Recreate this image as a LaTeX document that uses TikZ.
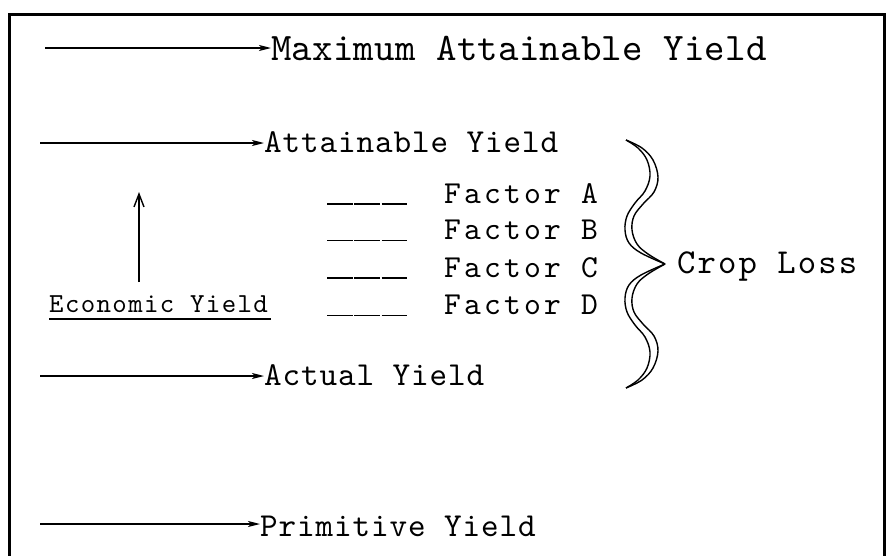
\documentclass[tikz,border=0pt]{standalone}
\usepackage{fontspec}
\usetikzlibrary{arrows.meta}
\newfontfamily\plotfont{lmmono10-regular.otf}
\tikzset{
  txt/.style={inner sep=0pt, anchor=base west, text=black},
  bigtxt/.style={font=\plotfont\fontsize{39}{42}\selectfont\addfontfeature{LetterSpace=0.5}},
  midtxt/.style={font=\plotfont\fontsize{33.5}{36}\selectfont\addfontfeature{LetterSpace=2.7}},
  factxt/.style={font=\plotfont\fontsize{32}{34}\selectfont\addfontfeature{LetterSpace=10}},
  croptxt/.style={font=\plotfont\fontsize{35}{38}\selectfont\addfontfeature{LetterSpace=6}},
  ecotxt/.style={font=\plotfont\fontsize{27.5}{30}\selectfont\addfontfeature{LetterSpace=5}},
  harrow/.style={line width=1.3pt, -{Stealth[length=12pt,width=6pt,inset=3pt]}},
  varrow/.style={line width=1.4pt, -{Straight Barb[length=13pt,width=10pt]}},
  blankline/.style={line width=1.2pt, dash pattern=on 25.5pt off 1.8pt},
  bracestroke/.style={line width=1.4pt, line join=round},
  frame/.style={line width=3pt}
}
\begin{document}
\begin{tikzpicture}[x=1pt,y=-1pt]
\useasboundingbox (0,0) rectangle (887,555);
\draw[frame] (9,570) -- (9,14) -- (884,14) -- (884,570);

% main yield levels
\coordinate (s1) at (45,48);
\node[txt,bigtxt] (maxy) at (271,60) {Maximum Attainable Yield};
\draw[harrow] (s1) -- (s1 -| maxy.west);

\coordinate (s2) at (40,143);
\node[txt,midtxt] (atty) at (264,152) {Attainable Yield};
\draw[harrow] (s2) -- (s2 -| atty.west);

\coordinate (s3) at (40,376);
\node[txt,midtxt] (acty) at (264,385) {Actual Yield};
\draw[harrow] (s3) -- (s3 -| acty.west);

\coordinate (s4) at (40,524);
\node[txt,midtxt] (primy) at (260,536) {Primitive Yield};
\draw[harrow] (s4) -- (s4 -| primy.west);

% economic yield
\node[txt,ecotxt] (eco) at (49,312) {Economic Yield};
\draw[line width=1.3pt] ([yshift=-7pt]eco.base west) -- ([yshift=-7pt,xshift=3pt]eco.base east);
\coordinate (v0) at (139,282);
\coordinate (v1) at (139,192);
\draw[varrow] (v0) -- (v1);

% factors
\foreach \l/\y in {A/203,B/239.5,C/277,D/314.5}{
  \node[txt,factxt] (f\l) at (444,\y) {Factor \l};
  \draw[blankline] (327,\y+1) -- (407,\y+1);
}

% brace
\draw[bracestroke] plot[smooth, tension=0.6] coordinates {(626,140) (642,148) (653,160) (658,177) (654,192) (643,204) (634,216) (632,230) (637,244) (648,254) (665,264)};
\draw[bracestroke] plot[smooth, tension=0.6] coordinates {(626,140) (638,148) (647,160) (650,176) (645,191) (635,203) (627,216) (625,230) (629,243) (641,253) (665,264)};
\draw[bracestroke] plot[smooth, tension=0.6] coordinates {(626,388) (642,380) (653,368) (658,351) (654,336) (643,324) (634,312) (632,298) (637,284) (648,274) (665,264)};
\draw[bracestroke] plot[smooth, tension=0.6] coordinates {(626,388) (638,380) (647,368) (650,352) (645,337) (635,325) (627,312) (625,298) (629,285) (641,275) (665,264)};

\node[txt,croptxt] (crop) at (677,273) {Crop Loss};
\end{tikzpicture}
\end{document}
